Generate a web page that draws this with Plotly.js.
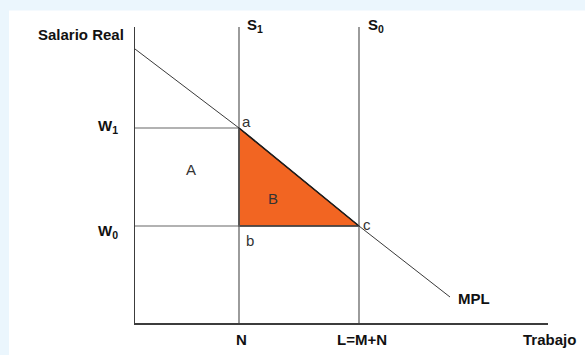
<!DOCTYPE html>
<html><head><meta charset="utf-8">
<script src="https://cdn.plot.ly/plotly-3.0.1.min.js"></script>
<style>html,body{margin:0;padding:0;background:#fff;}#chart{width:585px;height:355px;}</style>
</head><body><div id="chart"></div>
<script>
// Data (labour market diagram)
const N_LABOR = 104;          // employment under S1
const L_LABOR = 224;          // employment under S0 (L = M + N)
const W1 = 195;               // real wage with S1
const W0 = 97;                // real wage with S0
const Y_TOP = 296;            // top of axis
const X_END = 413;            // end of horizontal axis
const mplX = [0, 104, 224, 315];
const mplY = [274, 195, 97, 26];
const xTickVals = [N_LABOR, L_LABOR];
const xTickText = ['N', 'L=M+N'];
const yTickVals = [W1, W0];
const yTickText = ['W<sub>1</sub>', 'W<sub>0</sub>'];

const FONT = 'Liberation Sans, Arial, sans-serif';
const lineGray = '#666666';

const traces = [
  // Triangle B
  {x:[N_LABOR, L_LABOR, N_LABOR, N_LABOR], y:[W1, W0, W0, W1], mode:'lines', fill:'toself',
   fillcolor:'#F26522', line:{color:'#111', width:1.6}, hoverinfo:'skip', showlegend:false},
  // S1
  {x:[N_LABOR, N_LABOR], y:[0, Y_TOP], mode:'lines', line:{color:lineGray, width:1.3}, hoverinfo:'skip', showlegend:false},
  // S0
  {x:[L_LABOR, L_LABOR], y:[0, Y_TOP], mode:'lines', line:{color:lineGray, width:1.3}, hoverinfo:'skip', showlegend:false},
  // W1 line
  {x:[0, N_LABOR], y:[W1, W1], mode:'lines', line:{color:lineGray, width:1.2}, hoverinfo:'skip', showlegend:false},
  // W0 line
  {x:[0, L_LABOR], y:[W0, W0], mode:'lines', line:{color:lineGray, width:1.2}, hoverinfo:'skip', showlegend:false},
  // MPL
  {x:mplX, y:mplY, mode:'lines', line:{color:'#222', width:0.9}, hoverinfo:'skip', showlegend:false}
];

const bold = {family:FONT, size:15, color:'#111'};
const plain = {family:FONT, size:15, color:'#333'};
function ann(text, x, y, opts) {
  return Object.assign({text:text, x:x, y:y, xref:'x', yref:'y', showarrow:false,
    xanchor:'center', yanchor:'middle', font:bold}, opts || {});
}
const annotations = [
  ann('<b>Salario Real</b>', 0, Y_TOP - 7, {xanchor:'right', xshift:-9}),
  ann('<b>' + yTickText[0] + '</b>', 0, yTickVals[0], {xanchor:'right', xshift:-15, yshift:2}),
  ann('<b>' + yTickText[1] + '</b>', 0, yTickVals[1], {xanchor:'right', xshift:-15, yshift:-5}),
  ann('<b>S<sub>1</sub></b>', N_LABOR, Y_TOP, {xanchor:'left', xshift:6, yshift:2}),
  ann('<b>S<sub>0</sub></b>', L_LABOR, Y_TOP, {xanchor:'left', xshift:7, yshift:2}),
  ann('<b>MPL</b>', mplX[mplX.length-1], mplY[mplY.length-1], {xanchor:'left', xshift:6, yshift:-1}),
  ann('<b>' + xTickText[0] + '</b>', xTickVals[0], 0, {xshift:2, yshift:-16}),
  ann('<b>' + xTickText[1] + '</b>', xTickVals[1], 0, {xshift:3, yshift:-16}),
  ann('<b>Trabajo</b>', X_END, 0, {xanchor:'left', xshift:-27, yshift:-16}),
  ann('a', N_LABOR, W1, {xanchor:'left', xshift:1, yshift:7, font:plain}),
  ann('A', 56, 153.5, {font:plain}),
  ann('B', 137.7, 124.7, {font:plain}),
  ann('b', N_LABOR, W0, {xanchor:'left', xshift:4.5, yshift:-14, font:plain}),
  ann('c', L_LABOR, W0, {xanchor:'left', xshift:1.5, yshift:2, font:plain})
];

const shapes = [
  {type:'rect', xref:'paper', yref:'paper', x0:-135/413, x1:-126/413, y0:-32/296, y1:(296+27)/296,
   fillcolor:'#EBF6FD', line:{width:0}, layer:'below'},
  {type:'rect', xref:'paper', yref:'paper', x0:-135/413, x1:450/413, y0:(296+16.5)/296, y1:(296+27)/296,
   fillcolor:'#EBF6FD', line:{width:0}, layer:'below'}
];

const layout = {
  width:585, height:355,
  margin:{l:135, r:37, t:27, b:32, pad:0},
  paper_bgcolor:'#fff', plot_bgcolor:'rgba(0,0,0,0)',
  showlegend:false,
  xaxis:{range:[0, X_END], showgrid:false, zeroline:false, showticklabels:false, ticks:'',
         showline:true, linecolor:'#3c3c3c', linewidth:1.5, fixedrange:true},
  yaxis:{range:[0, Y_TOP], showgrid:false, zeroline:false, showticklabels:false, ticks:'',
         showline:true, linecolor:'#3c3c3c', linewidth:1.5, fixedrange:true},
  annotations:annotations,
  shapes:shapes
};

Plotly.newPlot('chart', traces, layout, {staticPlot:true, displayModeBar:false});
</script></body></html>
